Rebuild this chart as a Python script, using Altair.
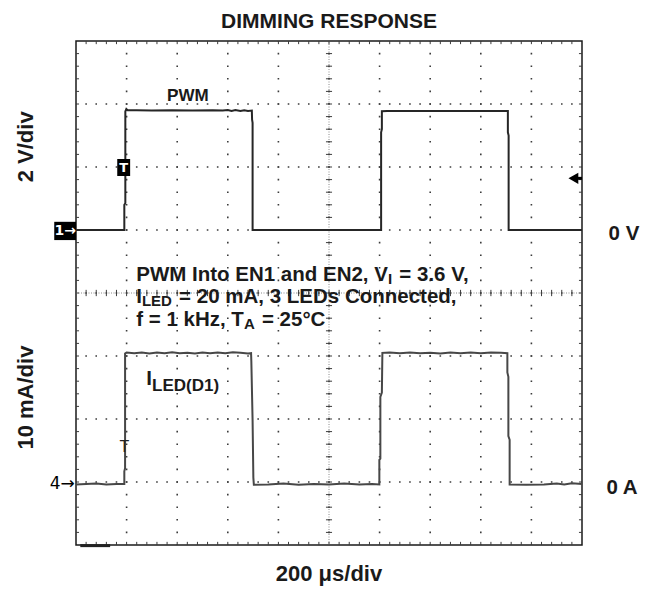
import altair as alt
import pandas as pd
import numpy as np

# ---------------- data ----------------
# time in microseconds (200 us/div, 10 div); vertical position in divisions (-4..4)
pwm_t = [0, 60, 120, 191, 191, 195, 195, 199, 204, 240, 300, 380, 460, 540, 580, 600,
         615, 630, 650, 665, 680, 695, 696, 698, 698, 800, 950, 1100, 1206, 1206, 1209,
         1209, 1230, 1350, 1500, 1650, 1707, 1707, 1710, 1710, 1850, 2000]
pwm_v = [0, 0, 0, 0, 0.8, 0.85, 3.76, 3.84, 3.8, 3.8, 3.79, 3.8, 3.79, 3.8, 3.79, 3.81,
         3.78, 3.81, 3.78, 3.8, 3.78, 3.79, 3.5, 3.4, 0.0, 0, 0, 0, 0, 3.1, 3.2,
         3.77, 3.78, 3.78, 3.78, 3.78, 3.78, 3.1, 3.0, 0, 0, 0]

led_t = [0, 40, 80, 120, 160, 191, 191, 194, 194, 200, 230, 260, 290, 320, 350, 380,
         410, 440, 470, 500, 530, 560, 590, 620, 650, 680, 692, 693, 698, 701, 703, 760,
         820, 880, 940, 1000, 1060, 1120, 1170, 1199, 1199, 1203, 1203, 1209, 1211, 1240,
         1280, 1320, 1360, 1400, 1440, 1480, 1520, 1560, 1600, 1640, 1680, 1705, 1705,
         1709, 1709, 1714, 1714, 1780, 1850, 1900, 1930, 1960, 2000]
led_i = [-0.1, 0.0, 0.05, -0.1, 0.0, 0.0, 2.0, 2.5, 20.7, 20.85, 20.75, 20.85, 20.7, 20.85, 20.75, 20.9,
         20.75, 20.8, 20.7, 20.85, 20.75, 20.85, 20.75, 20.9, 20.8, 20.7, 20.75, 19.5, 10.0, 1.0, -0.15, -0.1,
         0.05, -0.15, 0.0, -0.1, 0.05, -0.1, 0.0, -0.1, 3.8, 4.0, 13.8, 14.5, 20.8, 20.85,
         20.75, 20.85, 20.75, 20.8, 20.7, 20.85, 20.75, 20.85, 20.75, 20.85, 20.8, 20.75, 17.7,
         17.0, 7.6, 7.0, -0.1, -0.15, -0.1, 0.05, -0.1, 0.1, 0.0]

PWM_ZERO, PWM_SCALE = 1.0, 2.0      # div, V/div
LED_ZERO, LED_SCALE = -3.03, 10.0   # div, mA/div

assert len(pwm_t) == len(pwm_v) and len(led_t) == len(led_i)

traces = pd.concat([
    pd.DataFrame({"t": pwm_t, "y": [PWM_ZERO + v / PWM_SCALE for v in pwm_v],
                  "s": "PWM", "i": range(len(pwm_t))}),
    pd.DataFrame({"t": led_t, "y": [LED_ZERO + v / LED_SCALE for v in led_i],
                  "s": "ILED", "i": range(len(led_t))}),
])

FONT = "Liberation Sans"
INK = "#1a1a1a"
GRID = "#3c3c3c"

xs = alt.Scale(domain=[0, 2000], nice=False, zero=False)
ys = alt.Scale(domain=[-4, 4], nice=False, zero=False)


def X(f="t"):
    return alt.X(f"{f}:Q", scale=xs, axis=None)


def Y(f="y"):
    return alt.Y(f"{f}:Q", scale=ys, axis=None)


# ---------------- graticule ----------------
xgrid_vals = list(range(200, 2000, 200))
ygrid_vals = list(range(-3, 4))

vgrid = alt.Chart(pd.DataFrame({"t": xgrid_vals, "y": -4, "y2": 4})).mark_rule(
    color=GRID, strokeWidth=1.6, strokeDash=[1.6, 11.0], strokeDashOffset=0.8).encode(
    x=X(), y=Y(), y2="y2:Q")
hgrid = alt.Chart(pd.DataFrame({"y": ygrid_vals, "t": 0, "t2": 2000})).mark_rule(
    color=GRID, strokeWidth=1.6, strokeDash=[1.6, 8.52], strokeDashOffset=0.8).encode(
    x=X(), y=Y(), x2="t2:Q")

minor_t = np.arange(40, 2000, 40)
minor_y = np.round(np.arange(-3.8, 3.81, 0.2), 2)
tk_t, tk_y = 12, 0.05
ticks = pd.DataFrame(
    [dict(t=t, y=4, t2=t, y2=4 - tk_y) for t in minor_t]
    + [dict(t=t, y=-4, t2=t, y2=-4 + tk_y) for t in minor_t]
    + [dict(t=0, y=y, t2=tk_t, y2=y) for y in minor_y]
    + [dict(t=2000, y=y, t2=2000 - tk_t, y2=y) for y in minor_y]
    + [dict(t=1000 - tk_t, y=y, t2=1000 + tk_t, y2=y) for y in minor_y]
    + [dict(t=t, y=-tk_y, t2=t, y2=tk_y) for t in minor_t]
)
tick_layer = alt.Chart(ticks).mark_rule(color=GRID, strokeWidth=1).encode(
    x=X(), y=Y(), x2="t2:Q", y2="y2:Q")

center = pd.DataFrame([dict(t=1000, y=-4, t2=1000, y2=4), dict(t=0, y=0, t2=2000, y2=0)])
center_layer = alt.Chart(center).mark_rule(color="#8a8a8a", strokeWidth=1, strokeDash=[1, 1.5]).encode(
    x=X(), y=Y(), x2="t2:Q", y2="y2:Q")

trace_layer = alt.Chart(traces).mark_line(strokeWidth=2, interpolate="linear").encode(
    x=X(), y=Y(),
    color=alt.Color("s:N", scale=alt.Scale(domain=["PWM", "ILED"], range=["#262626", "#474747"]),
                    legend=None),
    detail="s:N",
    order="i:Q",
)

# ---------------- scope markers ----------------
boxes = pd.DataFrame([dict(t=-86, y=0.84, t2=0, y2=1.13),      # channel 1 ground marker
                      dict(t=163, y=1.857, t2=214, y2=2.127)])  # trigger marker
box_layer = alt.Chart(boxes).mark_rect(color="black").encode(x=X(), y=Y(), x2="t2:Q", y2="y2:Q")

box_text = alt.Chart(pd.DataFrame([dict(t=-43, y=0.985, s="1→", f=14),
                                   dict(t=188, y=1.99, s="T", f=13)])).mark_text(
    font="DejaVu Sans", fontWeight="bold", color="white", baseline="middle", align="center").encode(
    x=X(), y=Y(), text="s:N", size=alt.Size("f:Q", scale=None, legend=None))

ch4_mark = alt.Chart(pd.DataFrame([dict(t=-5, y=-3.03, s="4→")])).mark_text(
    font="DejaVu Sans", fontSize=17, color="black", align="right", baseline="middle").encode(
    x=X(), y=Y(), text="s:N")

trig4 = alt.Chart(pd.DataFrame([dict(t=191, y=-2.44, s="T")])).mark_text(
    font=FONT, fontSize=16, color="#222", align="center", baseline="middle").encode(
    x=X(), y=Y(), text="s:N")

arrow_head = alt.Chart(pd.DataFrame([dict(t=1966, y=1.82)])).mark_point(
    shape="triangle-left", filled=True, color="black", size=130, opacity=1).encode(x=X(), y=Y())
arrow_stem = alt.Chart(pd.DataFrame([dict(t=1972, y=1.82, t2=2000)])).mark_rule(
    color="black", strokeWidth=3).encode(x=X(), y=Y(), x2="t2:Q")

bottom_bar = alt.Chart(pd.DataFrame([dict(t=17, y=-4.01, t2=135)])).mark_rule(
    color="#222", strokeWidth=3).encode(x=X(), y=Y(), x2="t2:Q")

# ---------------- text ----------------
W = {" ": 278, "(": 333, ")": 333, ",": 278, ".": 278, "/": 278, "=": 584, "°": 400,
     "0": 556, "1": 556, "2": 556, "3": 556, "5": 556, "6": 556,
     "A": 722, "C": 722, "D": 722, "E": 667, "I": 278, "L": 611, "M": 833, "N": 722,
     "P": 667, "T": 611, "V": 667, "W": 944, "H": 722, "a": 556, "c": 556, "d": 611,
     "e": 556, "f": 333, "k": 556, "n": 611, "o": 611, "s": 556, "t": 333, "z": 500,
     "m": 889, "i": 278, "v": 556}


def tw(s, size):
    return sum(W.get(c, 556) for c in s) / 1000.0 * size


MAIN, SUB = 20.5, 15
note_lines = [
    [("PWM Into EN1 and EN2, V", MAIN, 0), ("I", SUB, 3), (" = 3.6 V,", MAIN, 0)],
    [("I", MAIN, 0), ("LED", SUB, 3), (" = 20 mA, 3 LEDs Connected,", MAIN, 0)],
    [("f = 1 kHz, T", MAIN, 0), ("A", SUB, 3), (" = 25°C", MAIN, 0)],
]
note_x = 238
note_y = [0.195, -0.159, -0.524]

text_layers = []
for line, ly in zip(note_lines, note_y):
    dx = 0.0
    for seg, size, dy in line:
        lead = len(seg) - len(seg.lstrip(" "))
        dx += tw(" " * lead, size) + (1.5 if lead else 0)
        body = seg.strip(" ")
        text_layers.append(
            alt.Chart(pd.DataFrame([dict(t=note_x, y=ly, s=body)])).mark_text(
                font=FONT, fontWeight="bold", fontSize=size, color=INK, align="left",
                baseline="alphabetic", dx=dx, dy=dy).encode(x=X(), y=Y(), text="s:N"))
        dx += tw(seg.lstrip(" "), size)

# I_LED(D1) trace label
text_layers.append(alt.Chart(pd.DataFrame([dict(t=278, y=-1.46, s="I")])).mark_text(
    font=FONT, fontWeight="bold", fontSize=MAIN, color=INK, align="left",
    baseline="alphabetic").encode(x=X(), y=Y(), text="s:N"))
text_layers.append(alt.Chart(pd.DataFrame([dict(t=278, y=-1.46, s="LED(D1)")])).mark_text(
    font=FONT, fontWeight="bold", fontSize=17, color=INK, align="left",
    baseline="alphabetic", dx=tw("I", MAIN), dy=6).encode(x=X(), y=Y(), text="s:N"))

labels = pd.DataFrame([
    dict(t=1000, y=4.206, s="DIMMING RESPONSE", f=21),
    dict(t=442, y=3.05, s="PWM", f=17),
    dict(t=2166, y=0.841, s="0 V", f=MAIN),
    dict(t=2158, y=-3.19, s="0 A", f=MAIN),
    dict(t=1000, y=-4.575, s="200 μs/div", f=22),
])
label_layer = alt.Chart(labels).mark_text(
    font=FONT, fontWeight="bold", color=INK, align="center", baseline="alphabetic").encode(
    x=X(), y=Y(), text="s:N", size=alt.Size("f:Q", scale=None, legend=None))

vlabels = pd.DataFrame([
    dict(t=-169, y=2.32, s="2 V/div"),
    dict(t=-169, y=-1.66, s="10 mA/div"),
])
vlabel_layer = alt.Chart(vlabels).mark_text(
    font=FONT, fontWeight="bold", fontSize=22, color=INK, align="center",
    baseline="alphabetic", angle=270).encode(x=X(), y=Y(), text="s:N")

chart = alt.layer(
    vgrid, hgrid, center_layer, tick_layer, trace_layer, box_layer, box_text, ch4_mark,
    trig4, arrow_head, arrow_stem, bottom_bar, label_layer, vlabel_layer, *text_layers
).properties(
    width=506, height=504,
    padding={"left": 68, "top": 33, "right": 59, "bottom": 41},
    autosize=alt.AutoSizeParams(type="none"),
    background="white",
).configure_view(stroke="#1a1a1a", strokeWidth=1.5)

chart.save("out.html", embed_options={"renderer": "svg", "actions": False})
